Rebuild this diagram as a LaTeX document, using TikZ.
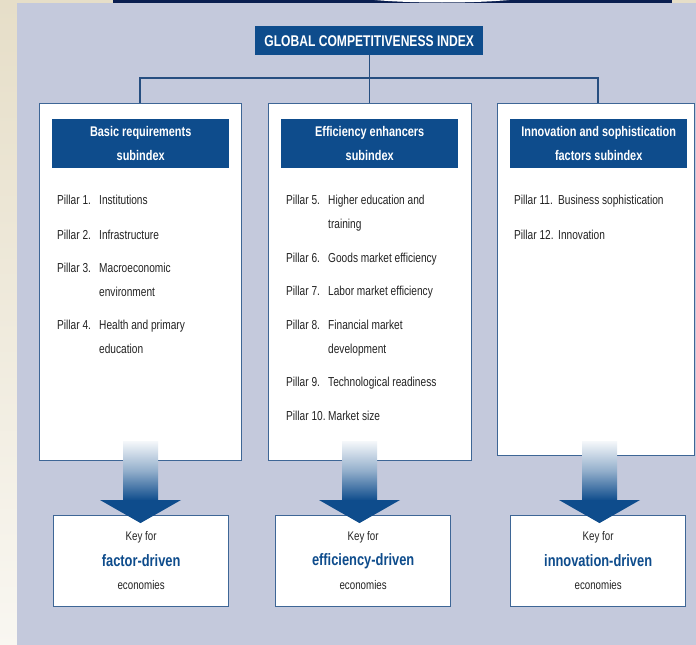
\documentclass[tikz,border=0pt]{standalone}
\usepackage{fontspec}
\setmainfont{Liberation Sans}[FakeStretch=0.78]
\definecolor{navy}{RGB}{14,76,140}
\definecolor{bggray}{RGB}{196,201,220}
\definecolor{edge}{RGB}{62,102,150}
\definecolor{linec}{RGB}{38,78,128}
\definecolor{txt}{RGB}{35,35,35}
\definecolor{beige}{RGB}{230,222,200}
\definecolor{topnavy}{RGB}{10,30,80}
\tikzset{
  bigbox/.style={draw=edge, line width=1.3pt, fill=white, inner sep=0, anchor=north west},
  hdr/.style={fill=navy, text=white, inner sep=0, anchor=north west, align=center,
    minimum width=177pt, minimum height=49pt, font=\fontsize{14}{24}\selectfont\bfseries},
  keybox/.style={draw=edge, line width=1.3pt, fill=white, inner sep=0, anchor=north west,
    minimum width=175pt, minimum height=91pt},
  pil/.style={anchor=base west, inner sep=0, text=txt, font=\fontsize{13}{13}\selectfont},
  keysm/.style={inner sep=0, text=txt, font=\fontsize{12.5}{13}\selectfont},
  keybig/.style={inner sep=0, text=navy, font=\fontsize{16.5}{17}\selectfont\bfseries},
  conn/.style={draw=linec, line width=1.3pt},
  shaft/.style={top color=navy!4, bottom color=navy, middle color=navy!45},
  head/.style={fill=navy}
}
\begin{document}
\begin{tikzpicture}[x=1pt,y=-1pt]
\useasboundingbox (0,0) rectangle (696,645);
% background
\shade[top color=beige, bottom color=beige!25!white] (0,0) rectangle (696,645);
\fill[bggray] (17,3) rectangle (696,645);
\fill[topnavy] (113,0) rectangle (672,3);
\begin{scope}
  \clip (113,0) rectangle (672,3);
  \fill[white] (442,-6) ellipse (95 and 8.5);
\end{scope}

% title
\node[fill=navy, text=white, inner sep=0, anchor=north west, minimum width=228pt, minimum height=29pt,
  font=\fontsize{15.5}{16}\selectfont\bfseries] (title) at (255,26) {GLOBAL COMPETITIVENESS INDEX};

% main boxes
\node[bigbox, minimum width=202pt, minimum height=357pt] (basic) at (39,103) {};
\node[bigbox, minimum width=203pt, minimum height=357pt] (effic) at (268,103) {};
\node[bigbox, minimum width=197pt, minimum height=352pt] (innov) at (497,103) {};

% connectors
\coordinate (hl) at (140,78);
\coordinate (hr) at (598,78);
\draw[conn] (basic.north -| hl) -- (hl) -- (hr) -- (innov.north -| hr);
\draw[conn] (title.south) -- (title.south |- effic.north);

% headers
\node[hdr] (h1) at (52,119) {Basic requirements\\subindex};
\node[hdr] (h2) at (281,119) {Efficiency enhancers\\subindex};
\node[hdr] (h3) at (510,119) {Innovation and sophistication\\factors subindex};

% pillars left
\node[pil] (p1n) at (57,204.5) {Pillar 1.};
\node[pil] (p1t) at (99,204.5) {Institutions};
\node[pil] (p2n) at (57,239.5) {Pillar 2.};
\node[pil] (p2t) at (99,239.5) {Infrastructure};
\node[pil] (p3n) at (57,272.5) {Pillar 3.};
\node[pil] (p3t) at (99,272.5) {Macroeconomic};
\node[pil] (p3u) at (99,296.5) {environment};
\node[pil] (p4n) at (57,329.5) {Pillar 4.};
\node[pil] (p4t) at (99,329.5) {Health and primary};
\node[pil] (p4u) at (99,353.5) {education};

% pillars middle
\node[pil] (p5n) at (286,204.5) {Pillar 5.};
\node[pil] (p5t) at (328,204.5) {Higher education and};
\node[pil] (p5u) at (328,228.5) {training};
\node[pil] (p6n) at (286,262.5) {Pillar 6.};
\node[pil] (p6t) at (328,262.5) {Goods market efficiency};
\node[pil] (p7n) at (286,295.5) {Pillar 7.};
\node[pil] (p7t) at (328,295.5) {Labor market efficiency};
\node[pil] (p8n) at (286,329.5) {Pillar 8.};
\node[pil] (p8t) at (328,329.5) {Financial market};
\node[pil] (p8u) at (328,353.5) {development};
\node[pil] (p9n) at (286,386.5) {Pillar 9.};
\node[pil] (p9t) at (328,386.5) {Technological readiness};
\node[pil] (p10n) at (286,420.5) {Pillar 10.};
\node[pil] (p10t) at (328,420.5) {Market size};

% pillars right
\node[pil] (p11n) at (514,204.5) {Pillar 11.};
\node[pil] (p11t) at (558,204.5) {Business sophistication};
\node[pil] (p12n) at (514,239.5) {Pillar 12.};
\node[pil] (p12t) at (558,239.5) {Innovation};

% key boxes
\node[keybox] (k1) at (53,515) {};
\node[keybox] (k2) at (275,515) {};
\node[keybox] (k3) at (510,515) {};
\foreach \b/\w in {k1/factor-driven, k2/efficiency-driven, k3/innovation-driven}{
  \node[keysm] (\b a) at ([yshift=-22pt]\b.north) {Key for};
  \node[keybig] (\b b) at ([yshift=-46pt]\b.north) {\w};
  \node[keysm] (\b c) at ([yshift=-70pt]\b.north) {economies};
}

% arrows
\foreach \c in {140.5,359.5,599.5}{
  \shade[shaft] (\c-17.5,441) rectangle (\c+17.5,500.5);
  \fill[head] (\c-40.5,500) -- (\c+40.5,500) -- (\c+1,522.5) -- (\c,523) -- (\c-1,522.5) -- cycle;
}
\end{tikzpicture}
\end{document}
